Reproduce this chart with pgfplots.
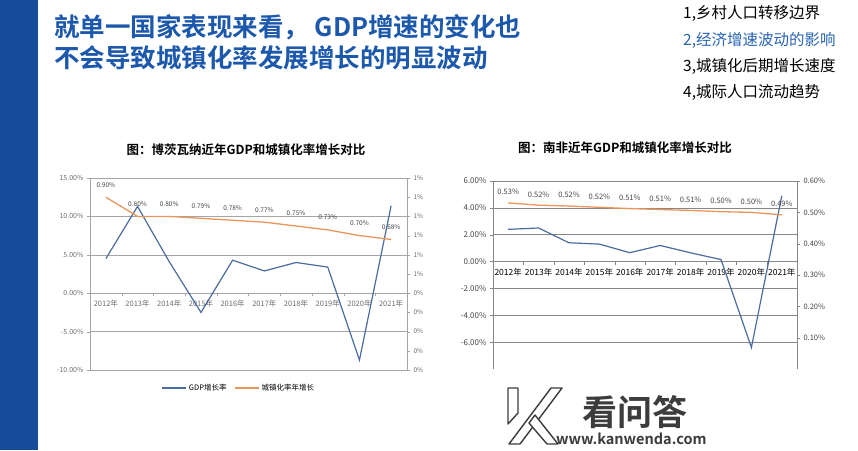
\documentclass[border=0pt]{standalone}
\usepackage{pgfplots}
\pgfplotsset{compat=1.18}
\usepackage{fontspec}
\setmainfont{Noto Sans CJK SC}[BoldFont={Noto Sans CJK SC Bold}]
\definecolor{barblue}{RGB}{22,74,155}
\definecolor{titleblue}{RGB}{28,88,172}
\definecolor{listblue}{RGB}{40,100,180}
\definecolor{gdpblue}{RGB}{74,108,160}
\definecolor{urborange}{RGB}{232,150,90}
\definecolor{gridA}{RGB}{165,165,165}
\definecolor{gridB}{RGB}{135,135,135}
\definecolor{txtA}{RGB}{110,110,110}
\definecolor{txtB}{RGB}{70,70,70}
\definecolor{wmdark}{RGB}{60,60,60}
\newcommand{\fs}[1]{\fontsize{#1}{#1}\selectfont}
\begin{document}
\begin{tikzpicture}[x=1pt,y=1pt]
\path[use as bounding box] (0pt,0pt) rectangle (858pt,-450pt);
\fill[white] (0pt,0pt) rectangle (858pt,-450pt);
\fill[barblue] (0pt,0pt) rectangle (38pt,-450pt);
% slide title
\node[anchor=west,text=titleblue,font=\fs{25.5}\bfseries,inner sep=0] at (54pt,-27pt) {就单一国家表现来看， GDP增速的变化也};
\node[anchor=west,text=titleblue,font=\fs{25.5}\bfseries,inner sep=0] at (54pt,-58pt) {不会导致城镇化率发展增长的明显波动};
% list
\node[anchor=west,font=\fs{15.5},inner sep=0] at (683pt,-13pt) {1,乡村人口转移边界};
\node[anchor=west,font=\fs{15.5},text=listblue,inner sep=0] at (683pt,-40pt) {2,经济增速波动的影响};
\node[anchor=west,font=\fs{15.5},inner sep=0] at (683pt,-66pt) {3,城镇化后期增长速度};
\node[anchor=west,font=\fs{15.5},inner sep=0] at (683pt,-92pt) {4,城际人口流动趋势};
% chart titles
\node[font=\fs{12.5}\bfseries,inner sep=0] at (246pt,-150pt) {图：博茨瓦纳近年GDP和城镇化率增长对比};
\node[font=\fs{12.5}\bfseries,inner sep=0] at (625pt,-148pt) {图：南非近年GDP和城镇化率增长对比};

% ===== Left chart: Botswana =====
\begin{axis}[
  at={(90pt,-370pt)}, anchor=south west, width=317pt, height=192pt, scale only axis,
  xmin=-0.5, xmax=9.5, ymin=-10, ymax=15,
  axis y line*=left, axis x line*=middle,
  every inner x axis line/.append style={-},
  axis line style={draw=gridA},
  /pgf/number format/assume math mode=true,
  ytick={-10,-5,0,5,10,15},
  yticklabel={\pgfmathprintnumber[fixed,fixed zerofill,precision=2]{\tick}\%},
  yticklabel style={font=\fs{7},text=txtA},
  ymajorgrids, grid style={draw=gridA,line width=0.6pt},
  y tick style={draw=gridA}, tick align=outside, major tick length=3pt,
  xtick={0,...,9},
  xticklabels={2012年,2013年,2014年,2015年,2016年,2017年,2018年,2019年,2020年,2021年},
  xticklabel style={font=\fs{7.5},text=txtA},
  major x tick style={draw=none},
  minor xtick={0.5,1.5,...,8.5}, minor x tick style={draw=gridA}, minor tick length=3pt,
  legend columns=2,
  legend style={at={(0.47,-0.094)}, anchor=center, draw=none, fill=none,
    font=\fs{7.5}, /tikz/every even column/.append style={column sep=6pt}},
  legend image code/.code={\draw[#1] (0pt,0pt) -- (24pt,0pt);},
]
\addplot[gdpblue, line width=1.2pt] coordinates {
 (0,4.5) (1,11.3) (2,4.1) (3,-2.5) (4,4.3) (5,2.9) (6,4.0) (7,3.4) (8,-8.7) (9,11.4)};
\addlegendentry{GDP增长率}
\addlegendimage{urborange, line width=1.2pt}
\addlegendentry{城镇化率年增长}
\end{axis}
\begin{axis}[
  at={(90pt,-370pt)}, anchor=south west, width=317pt, height=192pt, scale only axis,
  xmin=-0.5, xmax=9.5, ymin=0, ymax=1,
  axis y line*=right, axis x line=none,
  axis line style={draw=gridA},
  ytick={0,0.1,0.2,0.3,0.4,0.5,0.6,0.7,0.8,0.9,1.0},
  yticklabels={0\%,0\%,0\%,0\%,0\%,1\%,1\%,1\%,1\%,1\%,1\%},
  yticklabel style={font=\fs{6.5},text=txtA},
  y tick style={draw=gridA}, tick align=outside, major tick length=3pt,
  clip=false,
]
\addplot[urborange, line width=1.3pt, point meta=y,
  nodes near coords={\pgfmathprintnumber[fixed,fixed zerofill,precision=2]{\pgfplotspointmeta}\%},
  nodes near coords style={font=\fs{6.5},text=txtB,anchor=south,yshift=6pt,
    /pgf/number format/assume math mode=true}]
 coordinates {
 (0,0.90) (1,0.80) (2,0.80) (3,0.79) (4,0.78) (5,0.77) (6,0.75) (7,0.73) (8,0.70) (9,0.68)};
\end{axis}

% ===== Right chart: South Africa =====
\begin{axis}[
  at={(493pt,-369pt)}, anchor=south west, width=304pt, height=188pt, scale only axis,
  xmin=-0.5, xmax=9.5, ymin=-8, ymax=6,
  axis y line*=left, axis x line*=middle,
  every inner x axis line/.append style={-},
  axis line style={draw=gridB},
  /pgf/number format/assume math mode=true,
  ytick={-6,-4,-2,0,2,4,6},
  yticklabel={\pgfmathprintnumber[fixed,fixed zerofill,precision=2]{\tick}\%},
  yticklabel style={font=\fs{8},text=txtB},
  ymajorgrids, grid style={draw=gridB,line width=0.6pt},
  y tick style={draw=gridB}, tick align=outside, major tick length=3pt,
  xtick={0,...,9},
  xticklabels={2012年,2013年,2014年,2015年,2016年,2017年,2018年,2019年,2020年,2021年},
  xticklabel style={font=\fs{8.5},text=black},
  major x tick style={draw=none},
  minor xtick={0.5,1.5,...,8.5}, minor x tick style={draw=gridB}, minor tick length=3pt,
  clip=false,
]
\addplot[gdpblue, line width=1.2pt] coordinates {
 (0,2.4) (1,2.5) (2,1.4) (3,1.3) (4,0.66) (5,1.2) (6,0.65) (7,0.15) (8,-6.4) (9,4.9)};
\end{axis}
\begin{axis}[
  at={(493pt,-369pt)}, anchor=south west, width=304pt, height=188pt, scale only axis,
  xmin=-0.5, xmax=9.5, ymin=0, ymax=0.6,
  axis y line*=right, axis x line=none,
  axis line style={draw=gridB},
  /pgf/number format/assume math mode=true,
  ytick={0.1,0.2,0.3,0.4,0.5,0.6},
  yticklabel={\pgfmathprintnumber[fixed,fixed zerofill,precision=2]{\tick}\%},
  yticklabel style={font=\fs{7.5},text=txtB},
  y tick style={draw=gridB}, tick align=outside, major tick length=3pt,
  clip=false,
]
\addplot[urborange, line width=1.3pt, point meta=y,
  nodes near coords={\pgfmathprintnumber[fixed,fixed zerofill,precision=2]{\pgfplotspointmeta}\%},
  nodes near coords style={font=\fs{7.5},text=txtB,anchor=south,yshift=4pt,
    /pgf/number format/assume math mode=true}]
 coordinates {
 (0,0.530) (1,0.523) (2,0.520) (3,0.516) (4,0.512) (5,0.509) (6,0.506) (7,0.502) (8,0.500) (9,0.492)};
\end{axis}

% ===== watermark =====
\begin{scope}[line width=1.4pt, draw=wmdark, fill=white, line join=round]
\filldraw (508pt,-388pt)--(518pt,-388pt)--(518pt,-413pt)--(508pt,-424pt)--cycle;
\filldraw (551pt,-388pt)--(562pt,-388pt)--(520pt,-444pt)--(509pt,-444pt)--cycle;
\filldraw (529pt,-423pt)--(535pt,-415pt)--(558pt,-444pt)--(547pt,-444pt)--cycle;
\end{scope}
\node[anchor=west,font=\fs{35}\bfseries,text=wmdark,inner sep=0] at (582pt,-412pt) {看问答};
\node[anchor=west,font=\fs{14.5}\bfseries,text=wmdark,inner sep=0] at (556pt,-439pt) {www.kanwenda.com};
\end{tikzpicture}
\end{document}
